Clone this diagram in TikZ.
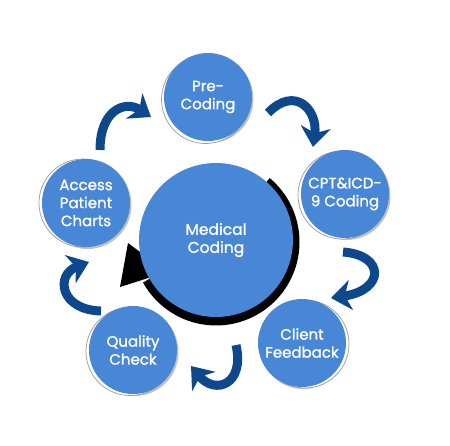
\documentclass[tikz,border=0pt]{standalone}
\usepackage{fontspec}
\setmainfont{Poppins}[FakeBold=1.3]
\usetikzlibrary{arrows.meta,shadows}
\definecolor{codeblue}{RGB}{72,134,214}
\definecolor{loopblue}{RGB}{14,72,140}
\tikzset{
  hub/.style={circle, fill=codeblue, minimum size=154pt, inner sep=0pt,
    text=white, align=center, font=\fontsize{15.5}{18}\selectfont},
  stage/.style 2 args={circle, fill=codeblue, minimum size=88pt, inner sep=0pt,
    text=white, align=center, font=\fontsize{15}{18}\selectfont,
    drop shadow={shadow xshift=1.5pt, shadow yshift=-2pt, opacity=.5},
    copy shadow={shadow xshift=#1, shadow yshift=#2, fill=white, draw=black!40, line width=.7pt}},
  swoosh/.style={loopblue, line width=9pt, -{Stealth[length=20pt,width=30pt,inset=6pt]}}
}
\begin{document}
\begin{tikzpicture}[x=1pt,y=-1pt]
    \useasboundingbox (0,0) rectangle (450,445);
    % black loop round the hub
    \draw[line width=9pt] (216,242) ++(-50:79) arc[start angle=-50, end angle=151, radius=79];
    \fill (128,243) -- (167,272) -- (120,287) -- cycle;
    \node[hub] (coding) at (216,240) {Medical\\Coding};
    % the five steps
    \node[stage={-2.5pt}{-2.5pt}] (precoding) at (208,97) {Pre-\\Coding};
    \node[stage={-3pt}{-1pt}] (cpt) at (345,194) {CPT\&ICD-\\9 Coding};
    \node[stage={3pt}{-1pt}] (feedback) at (302,343) {Client\\Feedback};
    \node[stage={-3pt}{-1.5pt}] (quality) at (133,350) {Quality\\Check};
    \node[stage={-3pt}{0pt}] (charts) at (86,203) {Access\\Patient\\Charts};
    % swooshes between steps
    \draw[swoosh] (100,150) .. controls (100,110) and (125,100) .. (151,117);
    \draw[swoosh] (268,113) .. controls (295,85) and (318,110) .. (313,147);
    \draw[swoosh] (343,252) .. controls (385,255) and (385,290) .. (331,298);
    \draw[swoosh] (236,345) .. controls (245,385) and (215,395) .. (191,366);
    \draw[swoosh] (101,311) .. controls (60,310) and (55,275) .. (89,262);
\end{tikzpicture}
\end{document}
